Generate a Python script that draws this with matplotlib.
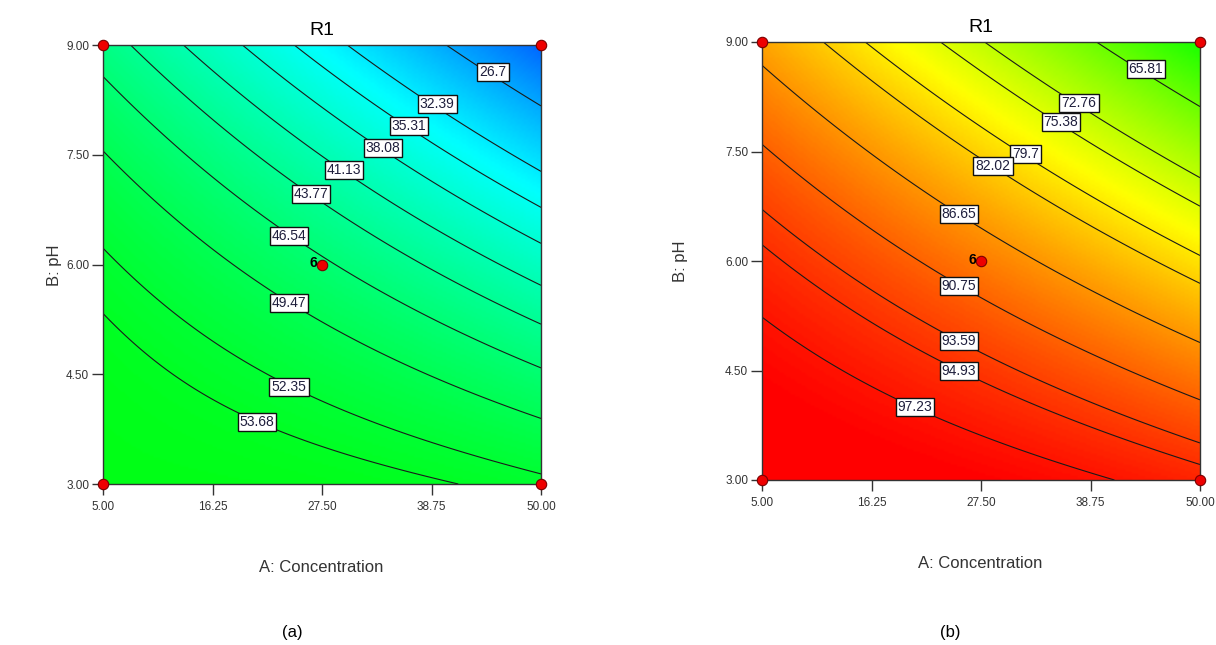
import numpy as np
import matplotlib
matplotlib.use("Agg")
import matplotlib.pyplot as plt
from matplotlib.colors import LinearSegmentedColormap, Normalize

plt.rcParams['font.family'] = ['Liberation Sans', 'DejaVu Sans']

# factor ranges (A: Concentration, B: pH)
x_ticks = [5.00, 16.25, 27.50, 38.75, 50.00]
y_ticks = [3.00, 4.50, 6.00, 7.50, 9.00]

# design points (factorial corners + centre, centre has 6 replicates)
design_x = [5.0, 5.0, 50.0, 50.0, 27.5]
design_y = [3.0, 9.0, 3.0, 9.0, 6.0]
centre_reps = 6

# (a) contour levels and where their labels sit
a_levels = [26.7, 32.39, 35.31, 38.08, 41.13, 43.77, 46.54, 49.47, 52.35, 53.68]
a_lab_x = [45.07, 39.32, 36.44, 33.77, 29.76, 26.37, 24.11, 24.11, 24.11, 20.82]
a_lab_y = [8.63, 8.19, 7.89, 7.59, 7.29, 6.96, 6.39, 5.47, 4.33, 3.85]
# (a) points where the contour lines meet the frame
a_edge_x = [5, 5, 5, 5, 7.98, 13.22, 19.08, 24.42, 29.86, 39.93,
            50, 50, 50, 50, 50, 50, 50, 50, 50, 40.96]
a_edge_y = [8.59, 7.54, 6.23, 5.35, 9, 9, 9, 9, 9, 9,
            8.15, 7.25, 6.77, 6.29, 5.69, 5.17, 4.59, 3.92, 3.16, 3]
a_edge_z = [46.54, 49.47, 52.35, 53.68, 43.77, 41.13, 38.08, 35.31, 32.39, 26.7,
            26.7, 32.39, 35.31, 38.08, 41.13, 43.77, 46.54, 49.47, 52.35, 53.68]

# (b) contour levels and label spots
b_levels = [65.81, 72.76, 75.38, 79.7, 82.02, 86.65, 90.75, 93.59, 94.93, 97.23]
b_lab_x = [44.45, 37.57, 35.72, 32.12, 28.73, 25.24, 25.24, 25.24, 25.24, 20.72]
b_lab_y = [8.63, 8.16, 7.90, 7.47, 7.30, 6.64, 5.66, 4.90, 4.49, 4.00]
b_edge_x = [5, 5, 5, 5, 5, 11.47, 15.58, 22.98, 27.40, 39.01,
            50, 50, 50, 50, 50, 50, 50, 50, 50, 40.03]
b_edge_y = [8.68, 7.62, 6.70, 6.22, 5.23, 9, 9, 9, 9, 9,
            8.11, 7.11, 6.74, 6.05, 5.67, 4.88, 4.12, 3.52, 3.25, 3]
b_edge_z = [86.65, 90.75, 93.59, 94.93, 97.23, 82.02, 79.7, 75.38, 72.76, 65.81,
            65.81, 72.76, 75.38, 79.7, 82.02, 86.65, 90.75, 93.59, 94.93, 97.23]

# Design-Expert style rainbow: blue - cyan - green - yellow - red
vmin, vmax = 12.0, 99.0
nodes = [12.0, 34.0, 57.0, 78.0, 99.0]
node_cols = ['#0000ff', '#00ffff', '#00ff00', '#ffff00', '#ff0000']
cmap = LinearSegmentedColormap.from_list(
    'de', [((v - vmin) / (vmax - vmin), c) for v, c in zip(nodes, node_cols)])
norm = Normalize(vmin, vmax)


def basis(x, y):
    a = (np.asarray(x, float) - 27.5) / 22.5
    b = (np.asarray(y, float) - 6.0) / 3.0
    return np.stack([np.ones_like(a), a, b, a * b, a ** 2, b ** 2], axis=-1)


def fit_surface(px, py, pz):
    # quadratic response surface through the read-off contour points
    coef, *_ = np.linalg.lstsq(basis(px, py), np.asarray(pz, float), rcond=None)
    gx, gy = np.meshgrid(np.linspace(5, 50, 200), np.linspace(3, 9, 200))
    return gx, gy, basis(gx, gy) @ coef


def draw_panel(ax, levels, lab_x, lab_y, ex, ey, ez):
    px = list(lab_x) + list(ex)
    py = list(lab_y) + list(ey)
    pz = list(levels) + list(ez)
    gx, gy, gz = fit_surface(px, py, pz)
    ax.imshow(gz, extent=(5, 50, 3, 9), origin='lower', aspect='auto',
              cmap=cmap, norm=norm, interpolation='bilinear', zorder=0)
    ax.contour(gx, gy, gz, levels=sorted(levels), colors='#1a1a1a',
               linewidths=0.8, zorder=2)
    for v, lx, ly in zip(levels, lab_x, lab_y):
        ax.text(lx, ly, f'{v:g}', fontsize=10, color='#1e1e3c',
                ha='center', va='center', zorder=4,
                bbox=dict(boxstyle='square,pad=0.15', fc='white',
                          ec='#111111', lw=1.0))
    ax.plot(design_x, design_y, 'o', ms=7.5, mfc='#ee0000', mec='#7a0000',
            mew=0.8, clip_on=False, zorder=6)
    ax.annotate(str(centre_reps), (design_x[-1], design_y[-1]),
                xytext=(-3.5, 1), textcoords='offset points',
                ha='right', va='center', fontsize=10, fontweight='bold',
                zorder=6)
    ax.set_xlim(5, 50)
    ax.set_ylim(3, 9)
    ax.set_xticks(x_ticks)
    ax.set_yticks(y_ticks)
    ax.set_xticklabels([f'{t:.2f}' for t in x_ticks])
    ax.set_yticklabels([f'{t:.2f}' for t in y_ticks])
    ax.tick_params(direction='out', length=8, width=1, color='#333333',
                   labelsize=8.5, labelcolor='#333333', pad=2)
    ax.tick_params(axis='x', pad=4)
    for s in ax.spines.values():
        s.set_color('#333333')
        s.set_linewidth(1.0)
    ax.set_title('R1', fontsize=14, pad=7)


fig = plt.figure(figsize=(12.16, 6.45), dpi=100)
W, H = 1216, 645
ax1 = fig.add_axes([103 / W, 1 - 484 / H, 438 / W, 439 / H])
ax2 = fig.add_axes([762 / W, 1 - 480 / H, 438 / W, 438 / H])

draw_panel(ax1, a_levels, a_lab_x, a_lab_y, a_edge_x, a_edge_y, a_edge_z)
draw_panel(ax2, b_levels, b_lab_x, b_lab_y, b_edge_x, b_edge_y, b_edge_z)

fig.text(321 / W, 1 - 567 / H, 'A: Concentration', fontsize=12,
         color='#333333', ha='center', va='center')
fig.text(980 / W, 1 - 563 / H, 'A: Concentration', fontsize=12,
         color='#333333', ha='center', va='center')
fig.text(55 / W, 1 - 265 / H, 'B: pH', fontsize=12, color='#333333',
         ha='center', va='center', rotation=90)
fig.text(681 / W, 1 - 261 / H, 'B: pH', fontsize=12, color='#333333',
         ha='center', va='center', rotation=90)
fig.text(292 / W, 1 - 632 / H, '(a)', fontsize=12, ha='center', va='center')
fig.text(950 / W, 1 - 632 / H, '(b)', fontsize=12, ha='center', va='center')

fig.savefig('out.png', dpi=100)
